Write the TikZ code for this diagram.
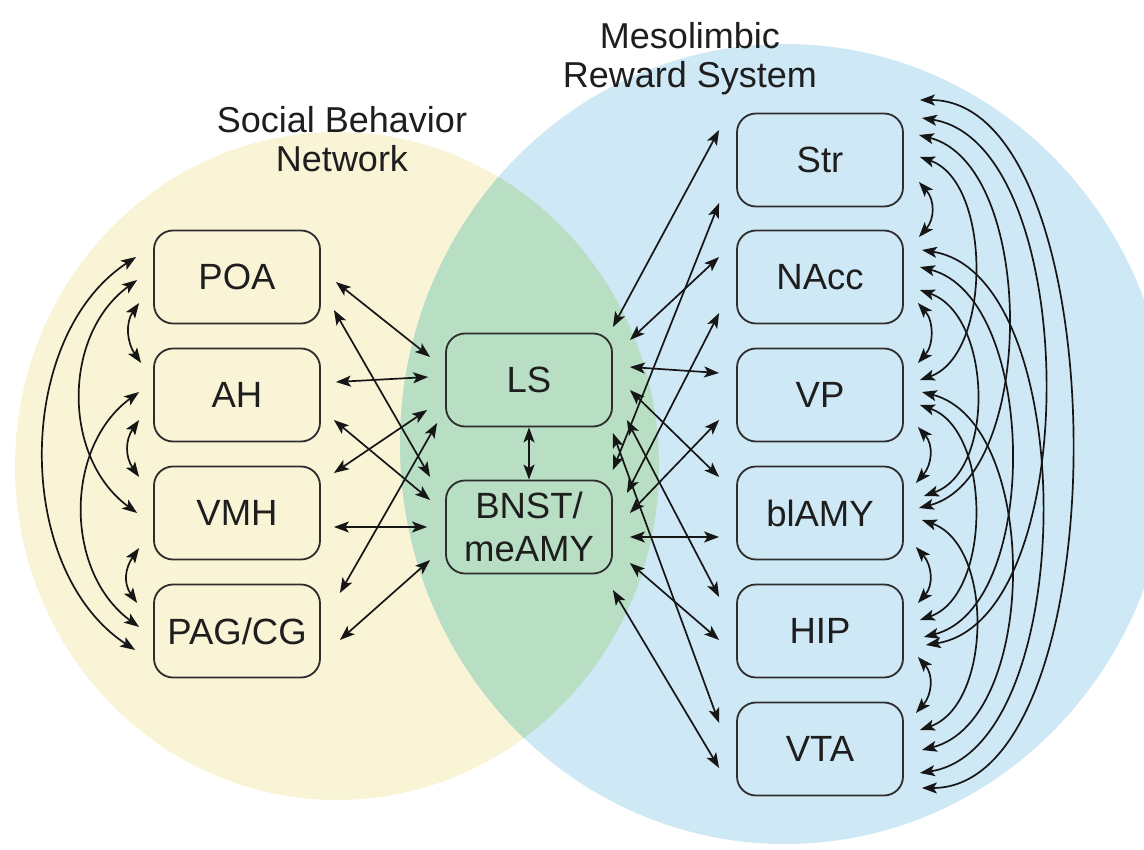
\documentclass[tikz,border=0pt]{standalone}
\usepackage{fontspec}
\setmainfont{Liberation Sans}
\usetikzlibrary{arrows.meta}
\definecolor{sbnyellow}{RGB}{249,244,214}
\definecolor{mrsblue}{RGB}{206,232,245}
\definecolor{overlapgreen}{RGB}{184,222,196}
\definecolor{edgegray}{RGB}{45,45,45}
\definecolor{arrowblack}{RGB}{22,22,22}
\definecolor{labeltext}{RGB}{30,30,30}
\begin{document}
\begin{tikzpicture}[x=1pt,y=-1pt,
  box/.style={draw=edgegray, line width=1.8pt, rounded corners=19pt,
    minimum width=166pt, minimum height=93pt, inner sep=0pt, align=center,
    text=labeltext, font=\fontsize{36.5}{43}\selectfont},
  title/.style={align=center, text=labeltext, font=\fontsize{36}{39}\selectfont},
  link/.style={arrowblack, line width=1.7pt,
    {Stealth[length=15pt,width=11pt,inset=3.5pt]}-{Stealth[length=15pt,width=11pt,inset=3.5pt]}},
]
\useasboundingbox (0,0) rectangle (1144,850);
% background regions
\begin{scope}
  \clip (0,0) rectangle (1144,850);
  \fill[sbnyellow] (337,466) ellipse [x radius=322, y radius=334];
  \fill[mrsblue] (785,444) ellipse [x radius=385, y radius=400];
  \begin{scope}
    \clip (337,466) ellipse [x radius=322, y radius=334];
    \fill[overlapgreen] (785,444) ellipse [x radius=385, y radius=400];
  \end{scope}
\end{scope}

% titles
\node[title] (sbn) at (342,139) {Social Behavior\\Network};
\node[title] (mrs) at (690,59) {Mesolimbic\\Reward System};

% nodes
\node[box] (POA) at (237,277) {POA};
\node[box] (AH)  at (237,395) {AH};
\node[box] (VMH) at (237,513) {VMH};
\node[box] (PAG) at (237,631) {PAG/CG};
\node[box] (LS)   at (529,380) {LS};
\node[box] (BNST) at (529,527) {BNST/\\meAMY};
\node[box] (Str)   at (820,160) {Str};
\node[box] (NAcc)  at (820,277) {NAcc};
\node[box] (VP)    at (820,395) {VP};
\node[box] (blAMY) at (820,513) {blAMY};
\node[box] (HIP)   at (820,631) {HIP};
\node[box] (VTA)   at (820,749) {VTA};

% left arcs
\draw[link] ([shift={(-14,26)}]POA.west) .. controls +(-14,20) and +(-14,-20) .. ([shift={(-12,-32)}]AH.west);
\draw[link] ([shift={(-14,25)}]AH.west) .. controls +(-14,20) and +(-14,-20) .. ([shift={(-14,-36)}]VMH.west);
\draw[link] ([shift={(-14,35)}]VMH.west) .. controls +(-14,20) and +(-14,-20) .. ([shift={(-16,-28)}]PAG.west);
\draw[link] ([shift={(-16,3)}]POA.west) .. controls +(-75,55) and +(-75,-55) .. ([shift={(-16,0)}]VMH.west);
\draw[link] ([shift={(-14,-3)}]AH.west) .. controls +(-75,55) and +(-75,-55) .. ([shift={(-14,-4)}]PAG.west);
\draw[link] ([shift={(-17,-20)}]POA.west) .. controls +(-122,80) and +(-122,-80) .. ([shift={(-18,19)}]PAG.west);

% left column to centre
\draw[link] ([shift={(15,5)}]POA.east) -- ([shift={(-15,-23)}]LS.west);
\draw[link] ([shift={(13,33)}]POA.east) -- ([shift={(-15,-50)}]BNST.west);
\draw[link] ([shift={(15,-13)}]AH.east) -- ([shift={(-17,-3)}]LS.west);
\draw[link] ([shift={(13,25)}]AH.east) -- ([shift={(-15,-27)}]BNST.west);
\draw[link] ([shift={(13,-40)}]VMH.east) -- ([shift={(-18,30)}]LS.west);
\draw[link] ([shift={(13,14)}]VMH.east) -- ([shift={(-18,0)}]BNST.west);
\draw[link] ([shift={(19,-38)}]PAG.east) -- ([shift={(-8,43)}]LS.west);
\draw[link] ([shift={(19,9)}]PAG.east) -- ([shift={(-15,33)}]BNST.west);

% LS - BNST
\draw[link] (LS.south) -- (BNST.north);

% centre to right column
\draw[link] ([shift={(0,-53)}]LS.east) -- ([shift={(-17,-30)}]Str.west);
\draw[link] ([shift={(17,-40)}]LS.east) -- ([shift={(-17,-20)}]NAcc.west);
\draw[link] ([shift={(17,-13)}]LS.east) -- ([shift={(-17,-22)}]VP.west);
\draw[link] ([shift={(17,10)}]LS.east) -- ([shift={(-17,-36)}]blAMY.west);
\draw[link] ([shift={(14,40)}]LS.east) -- ([shift={(-17,-34)}]HIP.west);
\draw[link] ([shift={(0,53)}]LS.east) -- ([shift={(-17,-26)}]VTA.west);
\draw[link] ([shift={(0,-57)}]BNST.east) -- ([shift={(-17,43)}]Str.west);
\draw[link] ([shift={(14,-34)}]BNST.east) -- ([shift={(-17,36)}]NAcc.west);
\draw[link] ([shift={(17,-14)}]BNST.east) -- ([shift={(-17,25)}]VP.west);
\draw[link] ([shift={(17,10)}]BNST.east) -- ([shift={(-17,24)}]blAMY.west);
\draw[link] ([shift={(17,36)}]BNST.east) -- ([shift={(-17,9)}]HIP.west);
\draw[link] ([shift={(0,63)}]BNST.east) -- ([shift={(-17,19)}]VTA.west);

% right arcs: neighbours
\draw[link] ([shift={(15,22)}]Str.east) .. controls +(16,18) and +(16,-18) .. ([shift={(15,-40)}]NAcc.east);
\draw[link] ([shift={(14,26)}]NAcc.east) .. controls +(16,18) and +(16,-18) .. ([shift={(14,-32)}]VP.east);
\draw[link] ([shift={(14,32)}]VP.east) .. controls +(16,18) and +(16,-18) .. ([shift={(12,-30)}]blAMY.east);
\draw[link] ([shift={(12,34)}]blAMY.east) .. controls +(16,18) and +(16,-18) .. ([shift={(14,-28)}]HIP.east);
\draw[link] ([shift={(14,26)}]HIP.east) .. controls +(16,18) and +(16,-18) .. ([shift={(12,-36)}]VTA.east);
% two rows apart
\draw[link] ([shift={(16,-3)}]Str.east) .. controls +(72,25) and +(72,-25) .. ([shift={(16,-15)}]VP.east);
\draw[link] ([shift={(16,13)}]NAcc.east) .. controls +(72,25) and +(72,-25) .. ([shift={(20,-17)}]blAMY.east);
\draw[link] ([shift={(16,10)}]VP.east) .. controls +(72,25) and +(72,-25) .. ([shift={(16,-11)}]HIP.east);
\draw[link] ([shift={(18,7)}]blAMY.east) .. controls +(72,25) and +(72,-25) .. ([shift={(16,-19)}]VTA.east);
% three rows apart
\draw[link] ([shift={(15,-25)}]Str.east) .. controls +(118,30) and +(118,-30) .. ([shift={(15,-5)}]blAMY.east);
\draw[link] ([shift={(16,-10)}]NAcc.east) .. controls +(118,30) and +(118,-30) .. ([shift={(20,6)}]HIP.east);
\draw[link] ([shift={(18,-3)}]VP.east) .. controls +(118,30) and +(118,-30) .. ([shift={(18,1)}]VTA.east);
% four rows apart
\draw[link] ([shift={(18,-42)}]Str.east) .. controls +(160,25) and +(160,-25) .. ([shift={(22,14)}]HIP.east);
\draw[link] ([shift={(18,-27)}]NAcc.east) .. controls +(160,25) and +(160,-25) .. ([shift={(16,24)}]VTA.east);
% five rows apart
\draw[link] ([shift={(16,-60)}]Str.east) .. controls +(200,0) and +(200,0) .. ([shift={(18,39)}]VTA.east);
\end{tikzpicture}
\end{document}
